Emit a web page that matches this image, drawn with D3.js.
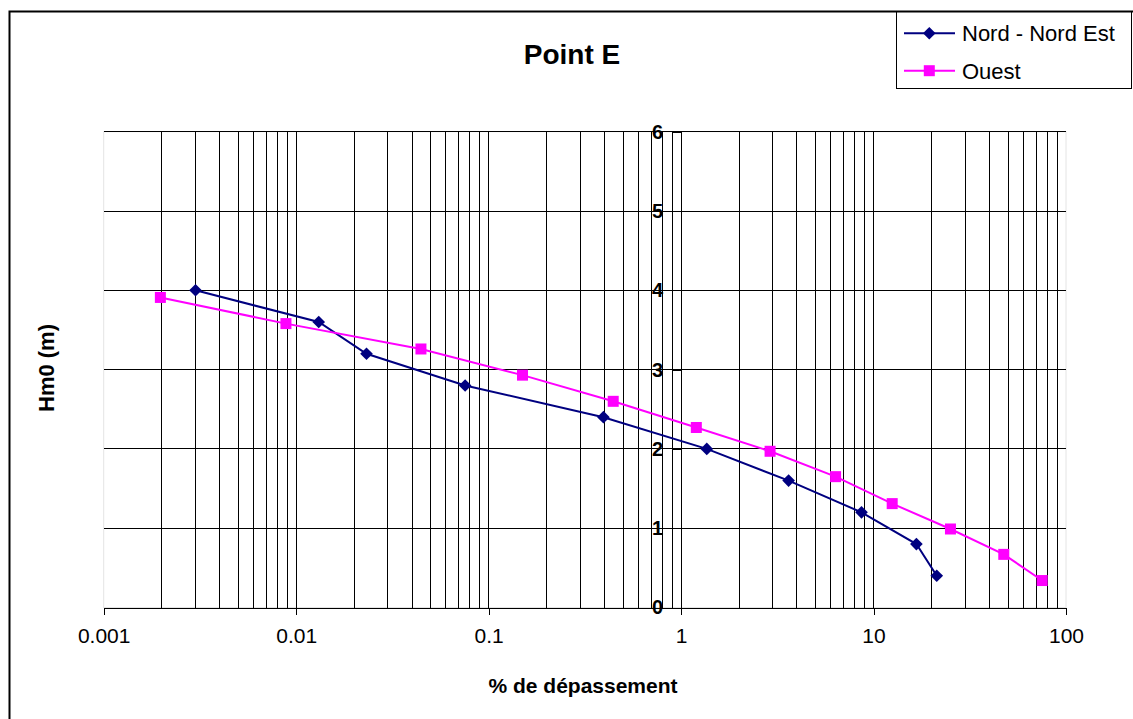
<!DOCTYPE html>
<html>
<head>
<meta charset="utf-8">
<script src="https://cdn.jsdelivr.net/npm/d3@7"></script>
<style>
  body { margin: 0; background: #fff; }
  svg { display: block; font-family: Arial, "Liberation Sans", sans-serif; }
</style>
</head>
<body>
<script>
// data
var nordX = [0.003, 0.0131, 0.0232, 0.0755, 0.395, 1.36, 3.62, 8.66, 16.7, 21.3];
var nordY = [4.0, 3.6, 3.2, 2.8, 2.4, 2.0, 1.6, 1.2, 0.8, 0.4];
var ouestX = [0.00197, 0.00885, 0.0445, 0.150, 0.444, 1.20, 2.90, 6.35, 12.5, 25.1, 47.5, 75.2];
var ouestY = [3.91, 3.58, 3.26, 2.93, 2.60, 2.27, 1.97, 1.65, 1.31, 0.99, 0.67, 0.34];
var xTicks = [0.001, 0.01, 0.1, 1, 10, 100];
var yTicks = [0, 1, 2, 3, 4, 5, 6];
var seriesNames = ["Nord - Nord Est", "Ouest"];
var seriesColors = ["#000080", "#ff00ff"];

// set up dimensions
var width = 1133,
    height = 719;
var plot = {left: 103.7, right: 1066, top: 131.7, bottom: 607.5};

var svg = d3.select("body")
            .append("svg")
            .attr("width", width)
            .attr("height", height);

// chart border
svg.append("rect")
    .attr("x", 9.5).attr("y", 11.5)
    .attr("width", 1140).attr("height", 730)
    .attr("fill", "#fff")
    .attr("stroke", "#000")
    .attr("stroke-width", 2);

// scales
var x = d3.scaleLog()
    .domain([0.001, 100])
    .range([plot.left, plot.right]);
var y = d3.scaleLinear()
    .domain([0, 6])
    .range([plot.bottom, plot.top]);

// plot area border (light)
svg.append("rect")
    .attr("x", plot.left).attr("y", plot.top)
    .attr("width", plot.right - plot.left)
    .attr("height", plot.bottom - plot.top)
    .attr("fill", "none")
    .attr("stroke", "#e4e4e4");

// vertical gridlines on every 1..9 of each decade
var grid = svg.append("g").attr("shape-rendering", "crispEdges");
var minorVals = x.ticks().filter(function(v) { return v > 0.001 && v < 100; });
grid.selectAll(".vgrid")
    .data(minorVals)
    .enter()
    .append("line")
    .attr("x1", function(d) { return x(d); })
    .attr("x2", function(d) { return x(d); })
    .attr("y1", plot.top)
    .attr("y2", plot.bottom)
    .attr("stroke", "#000");

// horizontal gridlines
grid.selectAll(".hgrid")
    .data(yTicks.filter(function(d) { return d > 0; }))
    .enter()
    .append("line")
    .attr("x1", plot.left)
    .attr("x2", plot.right)
    .attr("y1", function(d) { return y(d); })
    .attr("y2", function(d) { return y(d); })
    .attr("stroke", "#000");

// x axis
var xAxis = d3.axisBottom(x)
    .tickValues(xTicks)
    .tickSize(7)
    .tickPadding(14)
    .tickFormat(function(d) { return String(+d.toPrecision(3)); });
var gx = svg.append("g")
    .attr("transform", "translate(0," + plot.bottom + ")")
    .attr("shape-rendering", "crispEdges")
    .call(xAxis);
gx.select(".domain").attr("stroke", "#000");
gx.selectAll(".tick line").attr("stroke", "#000");
gx.selectAll("text")
    .attr("font-family", "Arial, 'Liberation Sans', sans-serif")
    .attr("font-size", 21)
    .attr("fill", "#000");

// y axis crossing at x = 1
var yAxis = d3.axisLeft(y)
    .tickValues(yTicks)
    .tickSize(8)
    .tickPadding(10)
    .tickFormat(d3.format("d"));
var gy = svg.append("g")
    .attr("transform", "translate(" + x(1) + ",0)")
    .attr("shape-rendering", "crispEdges")
    .call(yAxis);
gy.select(".domain").attr("stroke", "#000");
gy.selectAll(".tick line").attr("stroke", "#000");
gy.selectAll("text")
    .attr("font-family", "Arial, 'Liberation Sans', sans-serif")
    .attr("font-size", 20)
    .attr("font-weight", "bold")
    .attr("fill", "#000");

// series lines
var line = d3.line()
    .x(function(d) { return x(d[0]); })
    .y(function(d) { return y(d[1]); });

var nordData = d3.zip(nordX, nordY);
var ouestData = d3.zip(ouestX, ouestY);

svg.append("path")
    .datum(nordData)
    .attr("d", line)
    .attr("fill", "none")
    .attr("stroke", seriesColors[0])
    .attr("stroke-width", 2);

svg.append("path")
    .datum(ouestData)
    .attr("d", line)
    .attr("fill", "none")
    .attr("stroke", seriesColors[1])
    .attr("stroke-width", 2);

// markers
var diamond = d3.symbol().type(d3.symbolSquare).size(80);
svg.append("g")
    .selectAll("path")
    .data(nordData)
    .enter()
    .append("path")
    .attr("d", diamond)
    .attr("transform", function(d) { return "translate(" + x(d[0]) + "," + y(d[1]) + ") rotate(45)"; })
    .attr("fill", seriesColors[0]);

svg.append("g")
    .selectAll("rect")
    .data(ouestData)
    .enter()
    .append("rect")
    .attr("x", function(d) { return x(d[0]) - 5.5; })
    .attr("y", function(d) { return y(d[1]) - 5.5; })
    .attr("width", 11)
    .attr("height", 11)
    .attr("fill", seriesColors[1]);

// title
svg.append("text")
    .attr("x", 572)
    .attr("y", 64)
    .attr("text-anchor", "middle")
    .attr("font-size", 28)
    .attr("font-weight", "bold")
    .text("Point E");

// axis titles
svg.append("text")
    .attr("x", 583)
    .attr("y", 693)
    .attr("text-anchor", "middle")
    .attr("font-size", 21)
    .attr("font-weight", "bold")
    .text("% de dépassement");

svg.append("text")
    .attr("transform", "translate(54,368) rotate(-90)")
    .attr("text-anchor", "middle")
    .attr("font-size", 22)
    .attr("font-weight", "bold")
    .text("Hm0 (m)");

// legend
var legend = svg.append("g");
legend.append("rect")
    .attr("x", 896.5).attr("y", 12)
    .attr("width", 235).attr("height", 76.5)
    .attr("fill", "#fff")
    .attr("stroke", "#000")
    .attr("stroke-width", 1);

var rowY = [33.3, 70.7];
seriesNames.forEach(function(name, i) {
  legend.append("line")
      .attr("x1", 904).attr("x2", 955)
      .attr("y1", rowY[i]).attr("y2", rowY[i])
      .attr("stroke", seriesColors[i])
      .attr("stroke-width", 2);
  if (i === 0) {
    legend.append("path")
        .attr("d", diamond)
        .attr("transform", "translate(929.3," + rowY[i] + ") rotate(45)")
        .attr("fill", seriesColors[i]);
  } else {
    legend.append("rect")
        .attr("x", 929.3 - 5.5).attr("y", rowY[i] - 5.5)
        .attr("width", 11).attr("height", 11)
        .attr("fill", seriesColors[i]);
  }
  legend.append("text")
      .attr("x", 962)
      .attr("y", rowY[i])
      .attr("dy", "0.36em")
      .attr("font-size", 22)
      .text(name);
});
</script>
</body>
</html>
